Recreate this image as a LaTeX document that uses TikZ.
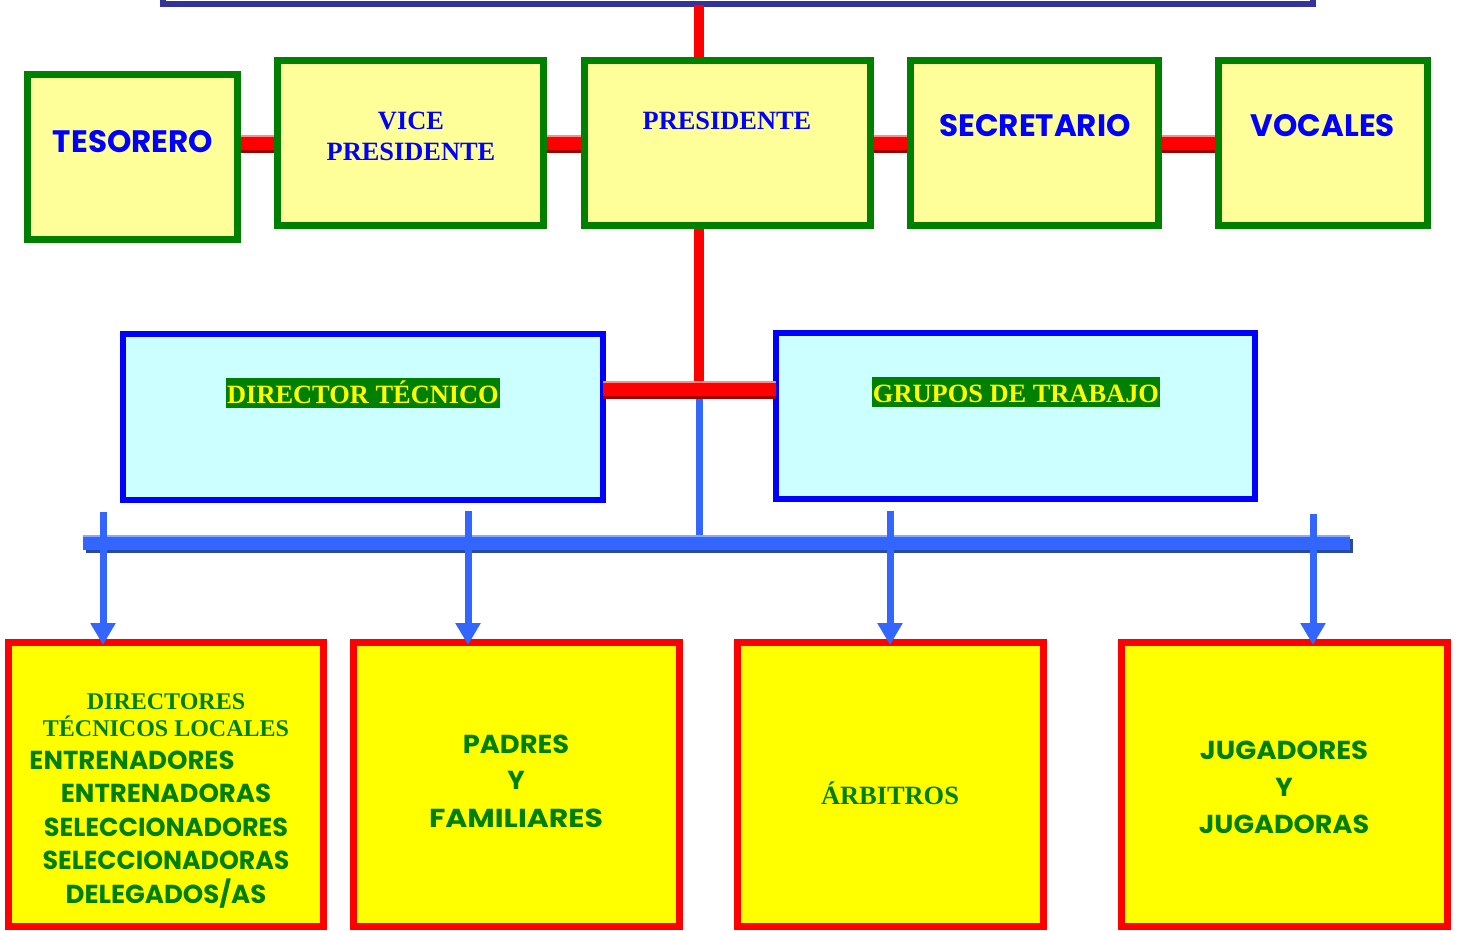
\documentclass[tikz,border=0pt]{standalone}
\usepackage{fontspec}
\setmainfont{Liberation Serif}
\newfontfamily\comicf{Poppins}
\usetikzlibrary{arrows.meta,calc}
\definecolor{grn}{HTML}{008000}
\definecolor{lyel}{HTML}{FFFF99}
\definecolor{pblue}{HTML}{0000FF}
\definecolor{lcyan}{HTML}{CCFFFF}
\definecolor{pred}{HTML}{FF0000}
\definecolor{dkred}{HTML}{A00000}
\definecolor{ltred}{HTML}{FF8A8A}
\definecolor{pyel}{HTML}{FFFF00}
\definecolor{blc}{HTML}{3366FF}
\definecolor{dkblc}{HTML}{2A4A9E}
\definecolor{ltblc}{HTML}{8FA8FF}
\definecolor{navy}{HTML}{333399}
\begin{document}
\begin{tikzpicture}[x=1pt,y=-1pt,
  gbox/.style={draw=grn,line width=7pt,fill=lyel,minimum height=165pt,inner sep=0pt},
  bbox/.style={draw=pblue,line width=6pt,fill=lcyan,minimum height=166pt,inner sep=0pt},
  rbox/.style={draw=pred,line width=7pt,fill=pyel,minimum height=284pt,inner sep=0pt},
  topc/.style={font=\comicf\bfseries\fontsize{31}{36}\selectfont,text=pblue,anchor=base,inner sep=0pt},
  tops/.style={font=\bfseries\fontsize{26.4}{31}\selectfont,text=pblue,anchor=base,inner sep=0pt,align=center},
  botc/.style={font=\comicf\bfseries\fontsize{26}{33}\selectfont,text=grn,anchor=base,inner sep=0pt},
  bots/.style={font=\bfseries\fontsize{24}{27}\selectfont,text=grn,anchor=base,inner sep=0pt},
  hl/.style={font=\bfseries\fontsize{26.4}{31}\selectfont,text=pyel,fill=grn,anchor=base,
     text height=21pt,text depth=1pt,inner ysep=4pt,inner xsep=1pt},
  redbar/.style={draw=pred,line width=14pt,
     preaction={draw=dkred,line width=14pt,transform canvas={shift={(0pt,-3pt)}}},
     postaction={draw=ltred,line width=2pt,transform canvas={shift={(0pt,7pt)}}}},
  rline/.style={draw=pred,line width=10pt},
  bluebar/.style={draw=blc,line width=14pt,
     preaction={draw=dkblc,line width=14pt,transform canvas={shift={(3pt,-3pt)}}},
     postaction={draw=ltblc,line width=2pt,transform canvas={shift={(0pt,7pt)}}}},
  bline/.style={draw=blc,line width=7pt},
  barrow/.style={draw=blc,line width=7pt,-{Triangle[width=24pt,length=22pt]}}
]
\useasboundingbox (0,0) rectangle (1459,930);
\clip (0,0) rectangle (1459,930);

% top box (partly visible)
\node[draw=navy,line width=6pt,fill=white,minimum width=1150pt,minimum height=100pt,inner sep=0pt] (top) at (738,-46) {};

% coordinates
\coordinate (rtop) at (699,5);
\coordinate (rj) at (699,389);
\coordinate (bl) at (83,543);
\coordinate (br) at (1350,543);
\coordinate (a1) at (103,512);
\coordinate (a2) at (468,511);
\coordinate (a3) at (890,511);
\coordinate (a4) at (1313,514);

% top row
\node[gbox,minimum width=210pt,minimum height=165pt] (tes) at (132.5,157) {};
\node[gbox,minimum width=266pt] (vice) at (410.5,143) {};
\node[gbox,minimum width=286pt] (pres) at (727.5,143) {};
\node[gbox,minimum width=248pt] (sec) at (1034.5,143) {};
\node[gbox,minimum width=209pt] (voc) at (1323,143) {};

% middle boxes
\node[bbox,minimum width=480pt] (dir) at (363,417) {};
\node[bbox,minimum width=479pt] (gru) at (1015.5,416) {};

% bottom boxes
\node[rbox,minimum width=315pt] (b1) at (166,784.5) {};
\node[rbox,minimum width=326pt] (b2) at (516.5,784.5) {};
\node[rbox,minimum width=306pt] (b3) at (890.5,784.5) {};
\node[rbox,minimum width=326pt] (b4) at (1284.5,784.5) {};

% red connectors
\draw[rline] (rtop) -- (rtop |- pres.north);
\draw[rline] (rtop |- pres.south) -- (rj);
\draw[redbar] (tes.east |- vice.west) -- (vice.west);
\draw[redbar] (vice.east) -- (pres.west);
\draw[redbar] (pres.east) -- (sec.west);
\draw[redbar] (sec.east) -- (voc.west);

% blue connectors
\draw[bline] (rj) -- (rj |- bl);
\draw[redbar] ($(dir.east |- rj)+(-3,0)$) -- ($(gru.west |- rj)+(3,0)$);
\draw[bluebar] (bl) -- (br);
\draw[barrow] (a1) -- ($(a1 |- b1.north)+(0,6)$);
\draw[barrow] (a2) -- ($(a2 |- b2.north)+(0,6)$);
\draw[barrow] (a3) -- ($(a3 |- b3.north)+(0,6)$);
\draw[barrow] (a4) -- ($(a4 |- b4.north)+(0,6)$);

% texts top row
\node[topc] (test) at (133,152) {TESORERO};
\node[tops] (vicet1) at (411,129) {VICE};
\node[tops] (vicet2) at (411,160) {PRESIDENTE};
\node[tops] (prest) at (727,129) {PRESIDENTE};
\node[topc] (sect) at (1035,136) {SECRETARIO};
\node[topc] (voct) at (1323,136) {VOCALES};

% middle texts
\node[hl] (dirt) at (363,403) {DIRECTOR TÉCNICO};
\node[hl] (grut) at (1016,402) {GRUPOS DE TRABAJO};

% bottom texts
\node[bots] (b1a) at (166,709) {DIRECTORES};
\node[bots] (b1b) at (166,736) {TÉCNICOS LOCALES};
\node[botc] (b1c) at (132,769) {ENTRENADORES};
\node[botc] (b1d) at (166,802) {ENTRENADORAS};
\node[botc] (b1e) at (166,836) {\scalebox{0.98}[1]{SELECCIONADORES}};
\node[botc] (b1f) at (166,869) {\scalebox{0.97}[1]{SELECCIONADORAS}};
\node[botc] (b1g) at (166,903) {DELEGADOS/AS};

\node[botc] (b2a) at (516,753) {\scalebox{1.05}[1]{PADRES}};
\node[botc] (b2b) at (516,789) {Y};
\node[botc] (b2c) at (516,827) {\scalebox{1.15}[1]{FAMILIARES}};

\node[bots,font=\bfseries\fontsize{26.4}{31}\selectfont] (b3a) at (890,804) {ÁRBITROS};

\node[botc] (b4a) at (1284,759) {\scalebox{1.06}[1]{JUGADORES}};
\node[botc] (b4b) at (1284,796) {Y};
\node[botc] (b4c) at (1284,833) {\scalebox{1.04}[1]{JUGADORAS}};
\end{tikzpicture}
\end{document}
